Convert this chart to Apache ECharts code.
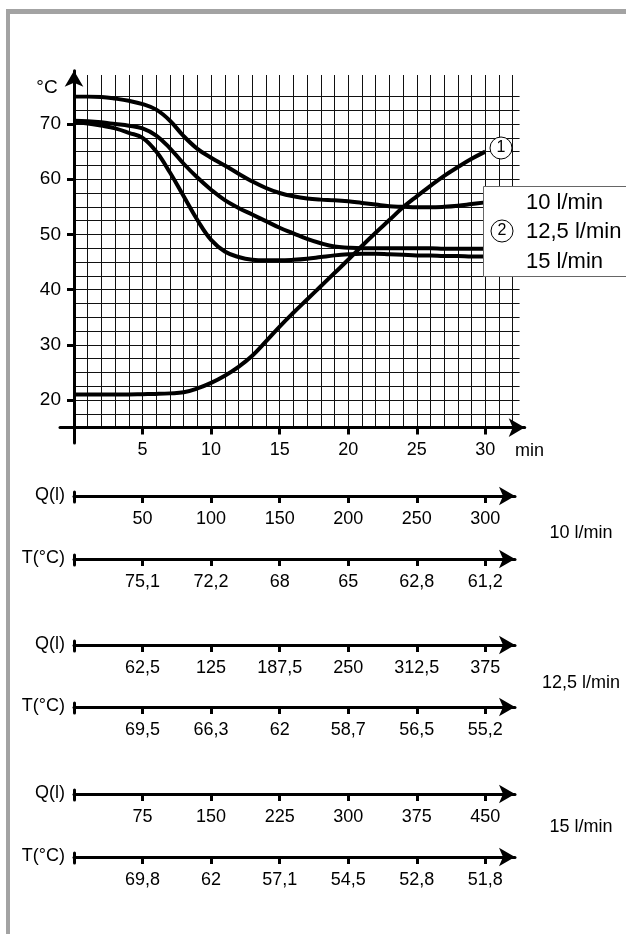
<!DOCTYPE html>
<html><head><meta charset="utf-8">
<script src="https://cdn.jsdelivr.net/npm/echarts@6/dist/echarts.min.js"></script>
<style>html,body{margin:0;padding:0;background:#fff}#c{width:626px;height:934px}</style>
</head><body><div id="c"></div>
<script>
// ---- data ----
const minutes    = [0,1,2,3,4,5,6,7,8,9,10,11,12,13,14,15,16,17,18,19,20,21,22,23,24,25,26,27,28,29,30];
const heating    = [21,21,21,21,21,21.05,21.1,21.2,21.4,22.1,23.1,24.4,26,28,30.6,33.3,35.8,38.2,40.6,43,45.4,47.9,50.3,52.6,54.9,56.9,58.8,60.6,62.2,63.7,65];
const flow10     = [75,75,74.9,74.6,74.2,73.6,72.6,70.6,67.8,65.5,63.9,62.5,61,59.6,58.4,57.5,56.9,56.5,56.3,56.2,56,55.7,55.4,55.1,55,54.9,54.9,55,55.2,55.5,55.8];
const flow125    = [70.6,70.5,70.3,70,69.7,69.2,67.9,65.6,62.8,60.3,58.1,56.2,54.8,53.6,52.4,51.2,50.2,49.2,48.4,47.8,47.6,47.5,47.5,47.5,47.5,47.5,47.5,47.4,47.4,47.4,47.4];
const flow15     = [70.3,70.1,69.7,69.2,68.4,67.5,65,61.2,56.9,52.6,49,46.9,45.9,45.4,45.3,45.3,45.4,45.6,45.9,46.2,46.4,46.5,46.5,46.4,46.3,46.2,46.2,46.1,46.1,46,46];

const timeTicks  = [5,10,15,20,25,30];
const tempTicks  = [20,30,40,50,60,70];
const legendLabels = ['10 l/min','12,5 l/min','15 l/min'];

const q10  = [50,100,150,200,250,300];
const t10  = [75.1,72.2,68,65,62.8,61.2];
const q125 = [62.5,125,187.5,250,312.5,375];
const t125 = [69.5,66.3,62,58.7,56.5,55.2];
const q15  = [75,150,225,300,375,450];
const t15  = [69.8,62,57.1,54.5,52.8,51.8];

// ---- layout ----
const FONT = '"Liberation Sans", Arial, sans-serif';
const X0 = 74, SX = 13.71;          // px of 0 min, px per min
const Y15 = 427.6, SY = 5.52;       // px of 15 °C, px per °C
const BLACK = '#000';

function pairs(ys){ return minutes.map((t,i)=>[t, ys[i]]); }
function fmt(v){ return String(v).replace('.', ','); }

const grids = [];
const xAxes = [];
const yAxes = [];

// grid 0: horizontal grid lines + curves (15..75 °C, 0..32.5 min)
grids.push({left:X0, top:Y15-60*SY, width:32.5*SX, height:60*SY});
xAxes.push({gridIndex:0, type:'value', min:0, max:32.5, show:false});
yAxes.push({gridIndex:0, type:'value', min:15, max:75, interval:2.5,
  axisLine:{show:false}, axisTick:{show:false}, axisLabel:{show:false},
  splitLine:{show:true, lineStyle:{color:'#111', width:1}}});

// grid 1: vertical grid lines (0..32 min)
grids.push({left:X0, top:75, width:32*SX, height:Y15-75});
xAxes.push({gridIndex:1, type:'value', min:0, max:32, interval:1,
  axisLine:{show:false}, axisTick:{show:false}, axisLabel:{show:false},
  splitLine:{show:true, lineStyle:{color:'#111', width:1}}});
yAxes.push({gridIndex:1, type:'value', min:0, max:1, show:false});

// grid 2: main time axis
const xLeft = 60, xTip = 532.7, arrowH = 16;
const xEnd = xTip - arrowH/2;
grids.push({left:xLeft, top:Y15-10, width:xEnd-xLeft, height:10});
xAxes.push({gridIndex:2, type:'value', min:(xLeft-X0)/SX, max:(xEnd-X0)/SX,
  axisLine:{onZero:false, symbol:['none','arrow'], symbolSize:[14,arrowH], lineStyle:{color:BLACK, width:3}},
  axisTick:{customValues:timeTicks, length:7, lineStyle:{color:BLACK, width:3}},
  axisLabel:{customValues:timeTicks, margin:13, color:BLACK, fontSize:18, fontFamily:FONT},
  splitLine:{show:false}});
yAxes.push({gridIndex:2, type:'value', min:0, max:1, show:false});

// grid 3: main temperature axis
const yBottom = 443, yTip = 62.7;
const yTop = yTip + arrowH/2;
grids.push({left:X0, top:yTop, width:10, height:yBottom-yTop});
xAxes.push({gridIndex:3, type:'value', min:0, max:1, show:false});
yAxes.push({gridIndex:3, type:'value', min:15-(yBottom-Y15)/SY, max:15+(Y15-yTop)/SY,
  axisLine:{onZero:false, symbol:['none','arrow'], symbolSize:[14,arrowH], lineStyle:{color:BLACK, width:3}},
  axisTick:{customValues:tempTicks, length:7, lineStyle:{color:BLACK, width:3}},
  axisLabel:{customValues:tempTicks, margin:13, color:BLACK, fontSize:19, fontFamily:FONT},
  splitLine:{show:false}});

// lower scales (quantity / temperature per flow rate)
const lowerRows = [
  {y:496, labels:q10}, {y:559, labels:t10},
  {y:645, labels:q125}, {y:707, labels:t125},
  {y:794, labels:q15}, {y:857, labels:t15}
];
const lowTip = 523, lowEnd = lowTip - arrowH/2;
lowerRows.forEach((row, k) => {
  const gi = grids.length;
  grids.push({left:X0, top:row.y-4, width:lowEnd-X0, height:10});
  const labs = row.labels;
  xAxes.push({gridIndex:gi, type:'value', min:0, max:(lowEnd-X0)/SX, position:'bottom', offset:-6,
    axisLine:{onZero:false, symbol:['none','arrow'], symbolSize:[14,arrowH], lineStyle:{color:BLACK, width:3}},
    axisTick:{customValues:timeTicks, length:7, lineStyle:{color:BLACK, width:3}},
    axisLabel:{customValues:timeTicks, margin:14, color:BLACK, fontSize:18, fontFamily:FONT,
      formatter: v => { const i = timeTicks.indexOf(Math.round(v)); return i>=0 ? fmt(labs[i]) : ''; }},
    splitLine:{show:false}});
  yAxes.push({gridIndex:gi, type:'value', min:0, max:1,
    axisLine:{show:true, onZero:false, lineStyle:{color:BLACK, width:3}},
    axisTick:{show:false}, axisLabel:{show:false}, splitLine:{show:false}});
});

grids.forEach(g => { g.outerBoundsMode = 'none'; g.containLabel = false; });

function curve(name, ys){
  return {name, type:'line', xAxisIndex:0, yAxisIndex:0, data:pairs(ys), smooth:0.4,
    showSymbol:false, symbol:'none', z:5, lineStyle:{color:BLACK, width:4}};
}

const textStyle = (size) => ({fontSize:size, fontFamily:FONT, fill:BLACK});
const graphics = [
  // frame
  {type:'rect', shape:{x:6, y:9, width:630, height:5}, style:{fill:'#a3a3a3'}, z:100},
  {type:'rect', shape:{x:6, y:9, width:4, height:940}, style:{fill:'#a3a3a3'}, z:100},
  // axis units
  {type:'text', x:47, y:88, style:Object.assign({text:'°C', textAlign:'center', textVerticalAlign:'middle'}, textStyle(19)), z:100},
  {type:'text', x:515, y:451, style:Object.assign({text:'min', textAlign:'left', textVerticalAlign:'middle'}, textStyle(18)), z:100},
  // marker 1
  {type:'circle', shape:{cx:501, cy:148, r:11}, style:{fill:'#fff', stroke:BLACK, lineWidth:1}, z:100},
  {type:'text', x:501, y:148, style:Object.assign({text:'1', textAlign:'center', textVerticalAlign:'middle'}, textStyle(16)), z:101},
  // legend box
  {type:'rect', shape:{x:483.5, y:186.5, width:160, height:90}, style:{fill:'#fff', stroke:'#666', lineWidth:1}, z:100},
  {type:'circle', shape:{cx:502, cy:231, r:11}, style:{fill:'#fff', stroke:BLACK, lineWidth:1}, z:101},
  {type:'text', x:502, y:231, style:Object.assign({text:'2', textAlign:'center', textVerticalAlign:'middle'}, textStyle(16)), z:102},
  {type:'text', x:526, y:203, style:Object.assign({text:legendLabels[0], textAlign:'left', textVerticalAlign:'middle'}, textStyle(22)), z:101},
  {type:'text', x:526, y:231.5, style:Object.assign({text:legendLabels[1], textAlign:'left', textVerticalAlign:'middle'}, textStyle(22)), z:101},
  {type:'text', x:526, y:262, style:Object.assign({text:legendLabels[2], textAlign:'left', textVerticalAlign:'middle'}, textStyle(22)), z:101},
];
// lower scale names and flow labels
const rowNames = ['Q(l)','T(°C)'];
lowerRows.forEach((row,k) => {
  graphics.push({type:'text', x:65, y:row.y-1, style:Object.assign({text:rowNames[k%2], textAlign:'right', textVerticalAlign:'middle'}, textStyle(18)), z:100});
});
const flowY = [533, 683, 827];
flowY.forEach((y,i) => {
  graphics.push({type:'text', x:581, y:y, style:Object.assign({text:legendLabels[i], textAlign:'center', textVerticalAlign:'middle'}, textStyle(18)), z:100});
});

const chart = echarts.init(document.getElementById('c'), null, {renderer:'canvas'});
chart.setOption({
  animation:false,
  backgroundColor:'#fff',
  grid:grids, xAxis:xAxes, yAxis:yAxes,
  series:[
    curve('① Aufheizen', heating),
    curve('10 l/min', flow10),
    curve('12,5 l/min', flow125),
    curve('15 l/min', flow15)
  ],
  graphic:{elements:graphics}
});
</script></body></html>
